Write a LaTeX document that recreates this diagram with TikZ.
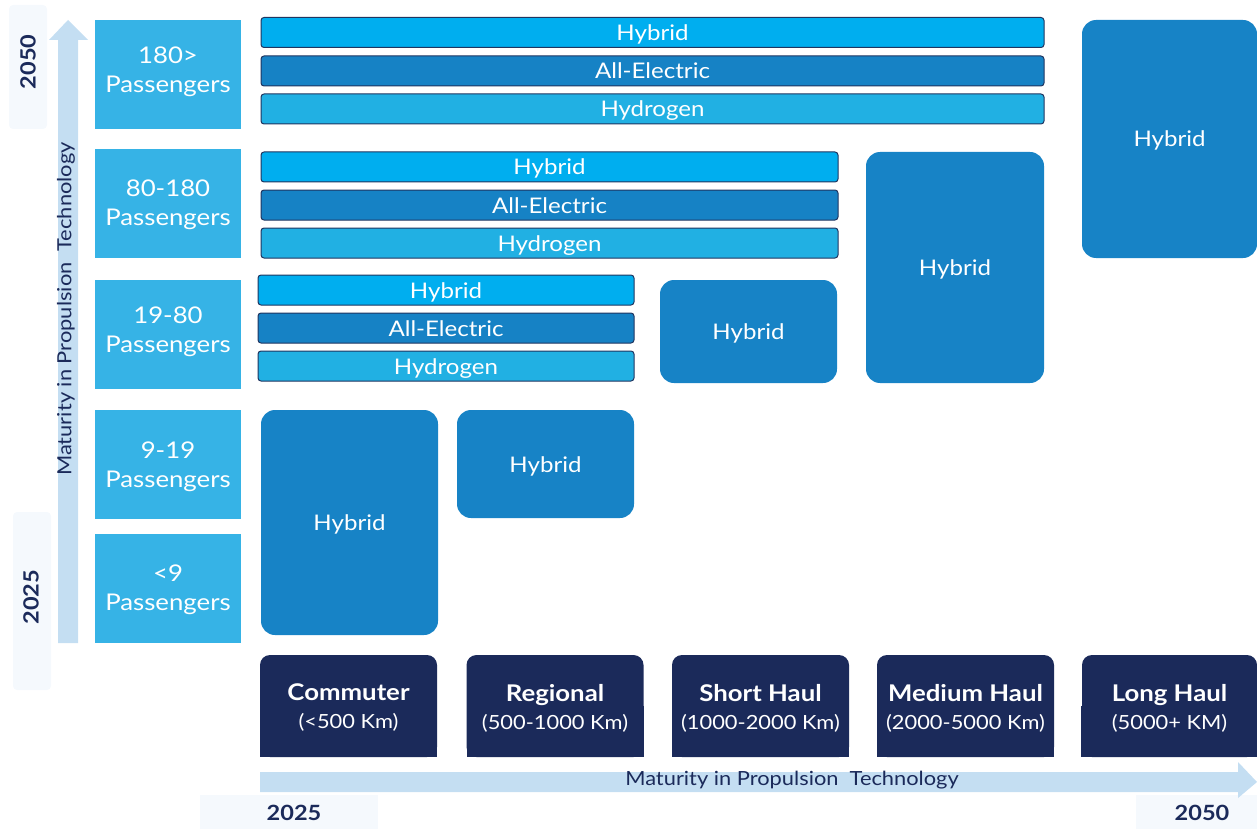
\documentclass[tikz,border=0pt]{standalone}
\usepackage{fontspec}
\setmainfont{Lato}[FakeStretch=1.12]
\definecolor{rowblue}{HTML}{36B3E6}
\definecolor{hybbar}{HTML}{00AEEF}
\definecolor{elecbar}{HTML}{1682C5}
\definecolor{hydbar}{HTML}{21B0E3}
\definecolor{bigblue}{HTML}{1783C6}
\definecolor{navy}{HTML}{1B2A5A}
\definecolor{barline}{HTML}{1F3560}
\definecolor{arrowblue}{HTML}{C4DEF2}
\definecolor{yearbg}{HTML}{F5F9FD}
\begin{document}
\begin{tikzpicture}[x=1pt,y=-1pt,
  rowlab/.style={fill=rowblue, minimum width=146pt, minimum height=109pt, inner sep=0pt},
  rowtext/.style={text=white, inner sep=0pt, align=center, font=\fontsize{23}{29}\selectfont},
  bar/.style={draw=barline, line width=1pt, rounded corners=3pt, text=white,
    minimum height=30pt, inner sep=0pt, text height=16pt, text depth=0pt,
    font=\fontsize{21.5}{24}\selectfont},
  hybbox/.style={fill=bigblue, rounded corners=14pt, text=white, inner sep=0pt,
    text height=16pt, text depth=0pt, font=\fontsize{21.5}{24}\selectfont},
  catbox/.style={fill=navy, rounded corners=10pt, inner sep=0pt,
    minimum width=177pt, minimum height=102pt},
  cattext/.style={text=white, inner sep=0pt, align=center, font=\fontsize{19.5}{28}\selectfont},
  yearbox/.style={fill=yearbg, rounded corners=4pt, inner sep=0pt},
  yeartext/.style={text=navy, font=\bfseries\fontsize{21}{24}\selectfont},
  axistext/.style={text=navy, font=\fontsize{19.5}{20}\selectfont}
]
\useasboundingbox (0,0) rectangle (1257,829);

% year markers
\node[yearbox, minimum width=38pt, minimum height=124pt] (ytop) at (28,67) {};
\node[yeartext, rotate=90] (ytopt) at (28,62) {2050};
\node[yearbox, minimum width=38pt, minimum height=178pt] (ybot) at (32,601) {};
\node[yeartext, rotate=90] (ybott) at (31,597) {2025};
\node[yearbox, minimum width=178pt, minimum height=34pt, rounded corners=0pt] (yl) at (289,812) {};
\node[yeartext] (ylt) at (294,813) {2025};
\node[yearbox, minimum width=122pt, minimum height=34pt, rounded corners=0pt] (yr) at (1197,812) {};
\node[yeartext] (yrt) at (1202,813) {2050};

% axis arrows
\fill[arrowblue] (58,643) -- (58,40) -- (49,40) -- (68,20) -- (88,40) -- (78,40) -- (78,643) -- cycle;
\node[axistext, rotate=90] (vaxis) at (66,309) {Maturity in Propulsion\ \ Technology};
\fill[arrowblue] (260,772) -- (1238,772) -- (1238,762) -- (1257,782) -- (1238,798) -- (1238,792) -- (260,792) -- cycle;
\node[axistext] (haxis) at (792,780) {Maturity in Propulsion\ \ Technology};

% passenger classes
\node[rowlab] (r1) at (168,74.5)  {};
\node[rowlab] (r2) at (168,203.5) {};
\node[rowlab] (r3) at (168,334.5) {};
\node[rowlab] (r4) at (168,464.5) {};
\node[rowlab] (r5) at (168,588.5) {};
\node[rowtext] (r1t) at ([yshift=2.5pt]r1.center) {180>\\Passengers};
\node[rowtext] (r2t) at ([yshift=-1.5pt]r2.center) {80-180\\Passengers};
\node[rowtext] (r3t) at ([yshift=2.5pt]r3.center) {19-80\\Passengers};
\node[rowtext] (r4t) at ([yshift=-2pt]r4.center) {9-19\\Passengers};
\node[rowtext] (r5t) at ([yshift=-1.5pt]r5.center) {<9\\Passengers};

% propulsion options, 180+ seats
\node[bar, fill=hybbar,  minimum width=783pt] (a1) at (652.5,32.5) {Hybrid};
\node[bar, fill=elecbar, minimum width=783pt] (a2) at (652.5,71)   {All-Electric};
\node[bar, fill=hydbar,  minimum width=783pt] (a3) at (652.5,109)  {Hydrogen};
% 80-180 seats
\node[bar, fill=hybbar,  minimum width=577pt] (b1) at (549.5,167) {Hybrid};
\node[bar, fill=elecbar, minimum width=577pt] (b2) at (549.5,205) {All-Electric};
\node[bar, fill=hydbar,  minimum width=577pt] (b3) at (549.5,243) {Hydrogen};
% 19-80 seats
\node[bar, fill=hybbar,  minimum width=376pt] (c1) at (446,290) {Hybrid};
\node[bar, fill=elecbar, minimum width=376pt] (c2) at (446,328) {All-Electric};
\node[bar, fill=hydbar,  minimum width=376pt] (c3) at (446,366) {Hydrogen};

% hybrid-only blocks
\node[hybbox, minimum width=175pt, minimum height=238pt] (hl) at (1169.5,139) {Hybrid};
\node[hybbox, minimum width=178pt, minimum height=231pt] (hm) at (955,267.5) {Hybrid};
\node[hybbox, minimum width=177pt, minimum height=103pt] (hs) at (748.5,331.5) {Hybrid};
\node[hybbox, minimum width=177pt, minimum height=108pt] (hr) at (545.5,464) {Hybrid};
\node[hybbox, minimum width=177pt, minimum height=225pt] (hc) at (349.5,522.5) {Hybrid};

% range categories (square lower corners)
\foreach \cx in {348.5,555,760.5,965.5,1169.5}
  \fill[navy] (\cx-88.5,706) rectangle (\cx+88.5,757);
\node[catbox] (k1) at (348.5,706)  {};
\node[catbox] (k2) at (555,706)    {};
\node[catbox] (k3) at (760.5,706)  {};
\node[catbox] (k4) at (965.5,706)  {};
\node[catbox, minimum width=175pt] (k5) at (1169.5,706) {};
\newcommand{\cattitle}[1]{{\bfseries\fontsize{23}{28}\selectfont #1}}
\node[cattext] (k1t) at ([yshift=-2pt]k1.center) {\cattitle{Commuter}\\(<500 Km)};
\node[cattext] (k2t) at ([yshift=-2pt]k2.center) {\cattitle{Regional}\\(500-1000 Km)};
\node[cattext] (k3t) at ([yshift=-2pt]k3.center) {\cattitle{Short Haul}\\(1000-2000 Km)};
\node[cattext] (k4t) at ([yshift=-2pt]k4.center) {\cattitle{Medium Haul}\\(2000-5000 Km)};
\node[cattext] (k5t) at ([yshift=-2pt]k5.center) {\cattitle{Long Haul}\\(5000+ KM)};
\end{tikzpicture}
\end{document}
